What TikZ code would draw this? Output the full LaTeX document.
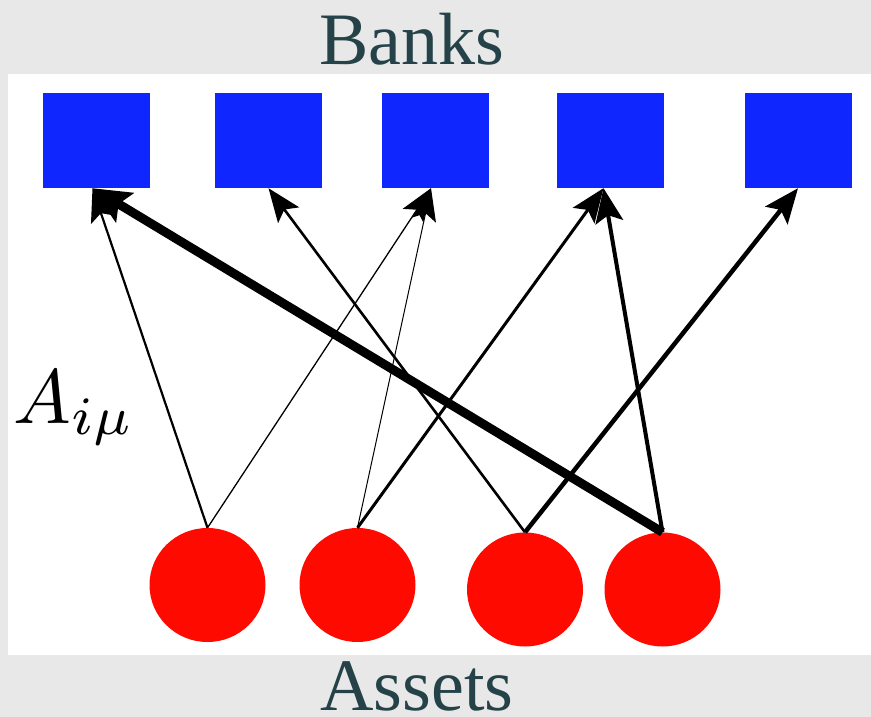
\documentclass[tikz,border=0pt]{standalone}
\usepackage{fontspec}
\setmainfont{Liberation Serif}
\usetikzlibrary{arrows.meta,shapes.geometric}
\definecolor{bgray}{RGB}{232,232,232}
\definecolor{bankblue}{RGB}{16,38,255}
\definecolor{assetred}{RGB}{255,10,0}
\definecolor{titleink}{RGB}{36,66,72}
\tikzset{
  bank/.style={rectangle, fill=bankblue, minimum width=107pt, minimum height=95pt, inner sep=0pt},
  asset/.style={ellipse, fill=assetred, minimum width=116pt, minimum height=114pt, inner sep=0pt},
  title/.style={text=titleink, font=\fontsize{74}{80}\selectfont, inner sep=0pt, text depth=0pt},
  link/.style={line width=#1, -{Stealth[length=32pt 0.6, width=23pt 1.2, inset=7pt]}},
}
\begin{document}
\begin{tikzpicture}[x=1pt,y=-1pt]
  % page and white panel
  \fill[bgray] (0,0) rectangle (871,717);
  \fill[white] (8,74) rectangle (871,655);
  \useasboundingbox (0,0) rectangle (871,717);

  % banks
  \node[bank] (b1) at (96.5,140.5) {};
  \node[bank] (b2) at (268.5,140.5) {};
  \node[bank] (b3) at (435,140.5) {};
  \node[bank] (b4) at (610.5,140.5) {};
  \node[bank] (b5) at (798,140.5) {};

  % assets
  \node[asset] (a1) at (207.5,585) {};
  \node[asset] (a2) at (357.5,585) {};
  \node[asset] (a3) at (525,589.5) {};
  \node[asset] (a4) at (662.5,589.5) {};

  % titles
  \node[title, anchor=base] (banks) at (412,65) {Banks};
  \node[title, anchor=base] (assets) at (417,710) {Assets};
  \node[anchor=base west, inner sep=0pt, scale=7.7] (amu) at (12,423) {$A_{i\mu}$};

  % exposures
  \draw[link=2.2pt] (a1.north) -- ([xshift=-4pt]b1.south);
  \draw[link=1.3pt] (a1.north) -- ([xshift=-4pt]b3.south);
  \draw[link=1pt]   (a2.north) -- ([xshift=-4pt]b3.south);
  \draw[link=3pt]   (a2.north) -- ([xshift=-7pt]b4.south);
  \draw[link=2.6pt] (a3.north) -- (b2.south);
  \draw[link=4.5pt] (a3.north) -- (b5.south);
  \draw[link=9pt]   (a4.north) -- ([xshift=-4pt]b1.south);
  \draw[link=4pt]   (a4.north) -- ([xshift=-7pt]b4.south);
\end{tikzpicture}
\end{document}
